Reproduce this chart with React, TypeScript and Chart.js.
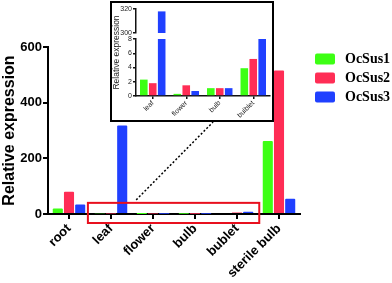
import React, { useEffect, useRef } from 'react';
import { Chart, registerables } from 'chart.js';

Chart.register(...registerables);

// ---------- data ----------
const categories = ['root', 'leaf', 'flower', 'bulb', 'bublet', 'sterile bulb'];
const insetCategories = ['leaf', 'flower', 'bulb', 'bulblet'];
const seriesNames = ['OcSus1', 'OcSus2', 'OcSus3'];
const ocSus1 = [20, 2.3, 0.3, 1.1, 3.9, 262];
const ocSus2 = [80, 1.8, 1.5, 1.1, 5.2, 516];
const ocSus3 = [34, 318, 0.7, 1.1, 8.3, 55];
const seriesColors = ['#3dff14', '#ff2d55', '#2040ff'];
const mainYTicks = [0, 200, 400, 600];
const insetLowTicks = [0, 2, 4, 6, 8];
const insetHighTicks = [300, 320];
const insetStart = 1; // first main category shown in the inset
const insetEnd = 5; // exclusive

const series = [ocSus1, ocSus2, ocSus3];

const SANS = "'Liberation Sans', Arial, sans-serif";
const SERIF = "'Liberation Serif', 'Times New Roman', serif";

// inset box placement (outer, including border)
const INSET_LEFT = 110;
const INSET_TOP = 1;
const INSET_W = 160;
const INSET_H = 117;
const INSET_BORDER = 2;

const annotationPlugin = {
  id: 'zoomAnnotation',
  afterDatasetsDraw(chart: any) {
    const { ctx, chartArea } = chart;
    const x = chart.scales.x;
    const y = chart.scales.y;
    const cw = x.getPixelForValue(1) - x.getPixelForValue(0);
    const left = x.getPixelForValue(insetStart) - 0.55 * cw;
    const right = x.getPixelForValue(insetEnd - 1) + 0.53 * cw;
    const top = y.getPixelForValue(40);
    const bottom = chartArea.bottom + 9;
    ctx.save();
    ctx.strokeStyle = '#e8101e';
    ctx.lineWidth = 2;
    ctx.strokeRect(left, top, right - left, bottom - top);
    // dotted leader to the inset
    ctx.strokeStyle = '#000';
    ctx.lineWidth = 1.5;
    ctx.setLineDash([2, 2]);
    ctx.beginPath();
    ctx.moveTo(x.getPixelForValue(insetStart) + 0.6 * cw, top - 3);
    ctx.lineTo(x.getPixelForValue(3) + 0.43 * cw, INSET_TOP + INSET_H + 2 * INSET_BORDER);
    ctx.stroke();
    ctx.restore();
  },
};

const legendPlugin = {
  id: 'sideLegend',
  afterDraw(chart: any) {
    const { ctx, chartArea } = chart;
    const lx = chartArea.right + 15;
    const y0 = 59;
    const step = 19;
    ctx.save();
    chart.data.datasets.forEach((ds: any, i: number) => {
      const cy = y0 + i * step;
      ctx.fillStyle = ds.backgroundColor;
      ctx.beginPath();
      if (ctx.roundRect) ctx.roundRect(lx, cy - 5.5, 20, 11, 2);
      else ctx.rect(lx, cy - 5.5, 20, 11);
      ctx.fill();
      ctx.fillStyle = '#000';
      ctx.font = `bold 14px ${SERIF}`;
      ctx.textBaseline = 'middle';
      ctx.textAlign = 'left';
      ctx.fillText(ds.label, lx + 30, cy + 0.5);
    });
    ctx.restore();
  },
};

const insetTitlePlugin = {
  id: 'insetTitle',
  afterDraw(chart: any) {
    const { ctx, chartArea } = chart;
    ctx.save();
    ctx.translate(4.5, (chartArea.top + chartArea.bottom) / 2);
    ctx.rotate(-Math.PI / 2);
    ctx.font = `8.5px ${SANS}`;
    ctx.fillStyle = '#222';
    ctx.textAlign = 'center';
    ctx.textBaseline = 'middle';
    ctx.fillText('Relative expression', 0, 0);
    ctx.restore();
  },
};

export default function App() {
  const mainRef = useRef<HTMLCanvasElement>(null);
  const insetRef = useRef<HTMLCanvasElement>(null);

  useEffect(() => {
    const axisGrid = {
      display: true,
      drawOnChartArea: false,
      color: '#000',
      lineWidth: 2,
      tickLength: 5,
    };
    const main = new Chart(mainRef.current as HTMLCanvasElement, {
      type: 'bar',
      data: {
        labels: categories,
        datasets: seriesNames.map((name, i) => ({
          label: name,
          data: series[i],
          backgroundColor: seriesColors[i],
          borderWidth: 0,
          borderRadius: 1,
          categoryPercentage: 0.8,
          barPercentage: 0.9,
        })),
      },
      options: {
        responsive: false,
        animation: false,
        devicePixelRatio: 1,
        layout: { padding: { top: 47, right: 92, left: 0, bottom: 0 } },
        plugins: { legend: { display: false }, tooltip: { enabled: false } },
        scales: {
          x: {
            grid: { ...axisGrid, offset: false },
            border: { color: '#000', width: 2 },
            ticks: {
              color: '#000',
              font: { family: SANS, size: 13, weight: 'bold' },
              minRotation: 45,
              maxRotation: 45,
              padding: 2,
              autoSkip: false,
            },
            afterFit: (s: any) => {
              s.height = 69;
            },
          },
          y: {
            min: 0,
            max: 600,
            afterBuildTicks: (s: any) => {
              s.ticks = mainYTicks.map((v) => ({ value: v }));
            },
            grid: axisGrid,
            border: { color: '#000', width: 2 },
            ticks: {
              color: '#000',
              font: { family: SANS, size: 13, weight: 'bold' },
              padding: 1,
            },
            title: {
              display: true,
              text: 'Relative expression',
              color: '#000',
              font: { family: SANS, size: 16, weight: 'bold' },
              padding: { top: 0, bottom: 0 },
            },
            afterFit: (s: any) => {
              s.width = 48;
            },
          },
        },
      },
      plugins: [annotationPlugin, legendPlugin],
    } as any);

    const LOW_MAX = insetLowTicks[insetLowTicks.length - 1];
    const HIGH_MIN = insetHighTicks[0];
    const HIGH_MAX = insetHighTicks[insetHighTicks.length - 1];
    const insetGrid = {
      display: true,
      drawOnChartArea: false,
      color: '#111',
      lineWidth: 1.5,
      tickLength: 3,
    };
    const insetTickFont = { family: SANS, size: 7 };
    const lowSets = seriesNames.map((name, i) => ({
      label: name,
      data: series[i].slice(insetStart, insetEnd).map((v) => Math.min(v, LOW_MAX)),
      backgroundColor: seriesColors[i],
      borderWidth: 0,
      yAxisID: 'yLow',
      stack: 's' + i,
      categoryPercentage: 0.8,
      barPercentage: 0.85,
    }));
    const highSets = seriesNames.map((name, i) => ({
      label: name + ' (upper)',
      data: series[i]
        .slice(insetStart, insetEnd)
        .map((v) => (v > HIGH_MIN ? [HIGH_MIN, Math.min(v, HIGH_MAX)] : null)),
      backgroundColor: seriesColors[i],
      borderWidth: 0,
      yAxisID: 'yHigh',
      stack: 's' + i,
      categoryPercentage: 0.8,
      barPercentage: 0.85,
    }));

    const inset = new Chart(insetRef.current as HTMLCanvasElement, {
      type: 'bar',
      data: { labels: insetCategories, datasets: [...lowSets, ...highSets] },
      options: {
        responsive: false,
        animation: false,
        devicePixelRatio: 1,
        layout: { padding: { top: 6, right: 2, left: 0, bottom: 0 } },
        plugins: { legend: { display: false }, tooltip: { enabled: false } },
        scales: {
          x: {
            grid: { ...insetGrid, offset: false },
            border: { color: '#111', width: 1.5 },
            ticks: {
              color: '#222',
              font: insetTickFont,
              minRotation: 45,
              maxRotation: 45,
              padding: 0,
              autoSkip: false,
            },
            afterFit: (s: any) => {
              s.height = 24;
            },
          },
          yLow: {
            position: 'left',
            stack: 'inset',
            stackWeight: 57,
            min: 0,
            max: LOW_MAX,
            afterBuildTicks: (s: any) => {
              s.ticks = insetLowTicks.map((v) => ({ value: v }));
            },
            grid: insetGrid,
            border: { color: '#111', width: 1.5 },
            ticks: { color: '#222', font: insetTickFont, padding: 1, autoSkip: false },
            afterFit: (s: any) => {
              s.width = 24;
            },
          },
          yGap: {
            position: 'left',
            stack: 'inset',
            stackWeight: 6,
            display: false,
          },
          yHigh: {
            position: 'left',
            stack: 'inset',
            stackWeight: 24,
            min: HIGH_MIN,
            max: HIGH_MAX,
            afterBuildTicks: (s: any) => {
              s.ticks = insetHighTicks.map((v) => ({ value: v }));
            },
            grid: insetGrid,
            border: { color: '#111', width: 1.5 },
            ticks: { color: '#222', font: insetTickFont, padding: 1, autoSkip: false },
            afterFit: (s: any) => {
              s.width = 24;
            },
          },
        },
      },
      plugins: [insetTitlePlugin],
    } as any);

    return () => {
      main.destroy();
      inset.destroy();
    };
  }, []);

  return (
    <div
      style={{
        position: 'fixed',
        left: 0,
        top: 0,
        width: 392,
        height: 283,
        background: '#fff',
        overflow: 'hidden',
      }}
    >
      <canvas
        ref={mainRef}
        width={392}
        height={283}
        style={{ position: 'absolute', left: 0, top: 0, width: 392, height: 283 }}
      />
      <div
        style={{
          position: 'absolute',
          left: INSET_LEFT,
          top: INSET_TOP,
          width: INSET_W,
          height: INSET_H,
          border: `${INSET_BORDER}px solid #000`,
          background: '#fff',
        }}
      >
        <canvas
          ref={insetRef}
          width={INSET_W}
          height={INSET_H}
          style={{ display: 'block', width: INSET_W, height: INSET_H }}
        />
      </div>
    </div>
  );
}
